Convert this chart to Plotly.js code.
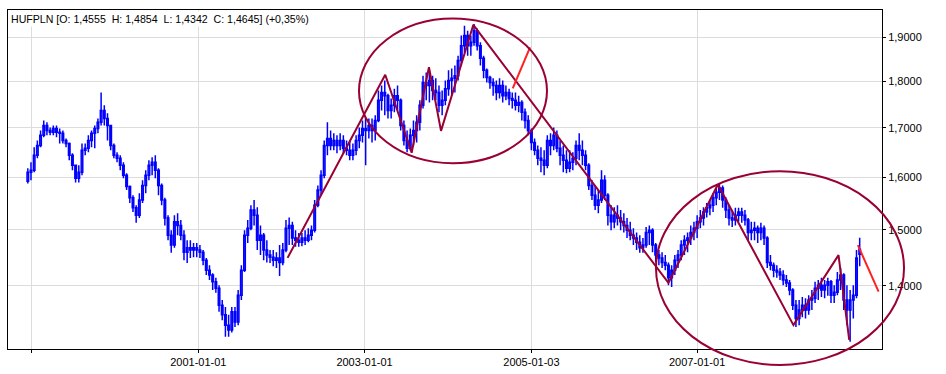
<!DOCTYPE html>
<html><head><meta charset="utf-8">
<script src="https://cdn.plot.ly/plotly-3.0.1.min.js"></script>
<style>html,body{margin:0;padding:0;background:#fff;}#chart{width:946px;height:374px;}</style>
</head><body><div id="chart"></div>
<script>
// Bi-weekly HUF/PLN bars
const startDate = '1998-12-14';
const barStepDays = 14;

const openV = [1.592,1.610,1.614,1.644,1.664,1.685,1.705,1.695,1.691,1.699,
1.691,1.689,1.674,1.668,1.644,1.624,1.598,1.610,1.654,1.658,
1.674,1.689,1.699,1.712,1.737,1.720,1.705,1.664,1.644,1.638,
1.624,1.604,1.582,1.560,1.541,1.527,1.556,1.584,1.604,1.624,
1.630,1.614,1.584,1.556,1.522,1.490,1.472,1.515,1.508,1.490,
1.459,1.467,1.463,1.467,1.463,1.459,1.445,1.427,1.419,1.407,
1.396,1.367,1.351,1.334,1.326,1.356,1.339,1.384,1.427,1.490,
1.503,1.537,1.527,1.481,1.490,1.463,1.454,1.450,1.445,1.449,
1.441,1.463,1.503,1.508,1.485,1.481,1.477,1.485,1.481,1.490,
1.499,1.546,1.575,1.604,1.664,1.678,1.664,1.674,1.664,1.674,
1.658,1.654,1.644,1.654,1.674,1.685,1.699,1.695,1.705,1.695,
1.716,1.759,1.776,1.769,1.737,1.748,1.769,1.759,1.705,1.674,
1.658,1.685,1.695,1.712,1.748,1.798,1.791,1.802,1.780,1.776,
1.748,1.759,1.784,1.802,1.807,1.813,1.847,1.881,1.905,1.881,
1.889,1.916,1.881,1.852,1.825,1.809,1.798,1.791,1.776,1.791,
1.769,1.776,1.763,1.759,1.748,1.754,1.733,1.716,1.695,1.670,
1.654,1.638,1.634,1.624,1.674,1.664,1.685,1.658,1.644,1.634,
1.618,1.630,1.638,1.664,1.654,1.644,1.624,1.584,1.565,1.546,
1.556,1.594,1.565,1.527,1.515,1.527,1.522,1.515,1.508,1.499,
1.490,1.485,1.477,1.467,1.472,1.495,1.499,1.472,1.454,1.449,
1.441,1.436,1.414,1.427,1.445,1.454,1.472,1.481,1.485,1.495,
1.503,1.515,1.522,1.533,1.541,1.546,1.560,1.571,1.579,1.556,
1.537,1.522,1.518,1.527,1.533,1.527,1.518,1.495,1.499,1.503,
1.495,1.503,1.485,1.441,1.436,1.427,1.424,1.419,1.410,1.405,
1.393,1.367,1.345,1.359,1.367,1.359,1.376,1.379,1.396,1.401,
1.393,1.401,1.407,1.384,1.389,1.410,1.419,1.376,1.359,1.376,
1.384,1.4555];

const highV = [1.618,1.630,1.660,1.674,1.695,1.716,1.712,1.701,1.705,1.705,
1.699,1.695,1.678,1.670,1.648,1.624,1.624,1.668,1.668,1.685,
1.695,1.705,1.720,1.776,1.748,1.731,1.699,1.668,1.650,1.644,
1.630,1.608,1.584,1.565,1.546,1.569,1.594,1.614,1.634,1.640,
1.644,1.618,1.588,1.560,1.527,1.499,1.527,1.531,1.518,1.499,
1.481,1.481,1.476,1.476,1.472,1.463,1.449,1.436,1.422,1.414,
1.401,1.376,1.364,1.351,1.364,1.364,1.393,1.436,1.499,1.518,
1.546,1.556,1.542,1.508,1.494,1.481,1.463,1.463,1.459,1.472,
1.476,1.518,1.523,1.515,1.499,1.494,1.494,1.499,1.503,1.508,
1.556,1.584,1.614,1.674,1.712,1.695,1.689,1.685,1.689,1.685,
1.674,1.674,1.668,1.685,1.701,1.716,1.720,1.720,1.720,1.727,
1.780,1.791,1.802,1.773,1.763,1.784,1.791,1.763,1.716,1.695,
1.699,1.716,1.727,1.759,1.813,1.820,1.825,1.813,1.807,1.791,
1.780,1.802,1.825,1.829,1.836,1.858,1.905,1.928,1.916,1.905,
1.932,1.921,1.889,1.858,1.829,1.813,1.807,1.802,1.807,1.802,
1.791,1.784,1.776,1.776,1.769,1.759,1.741,1.727,1.699,1.678,
1.664,1.660,1.654,1.685,1.689,1.701,1.695,1.674,1.664,1.654,
1.654,1.650,1.674,1.689,1.674,1.654,1.628,1.594,1.584,1.575,
1.614,1.604,1.569,1.546,1.542,1.546,1.537,1.531,1.522,1.515,
1.503,1.495,1.490,1.485,1.505,1.508,1.503,1.476,1.463,1.459,
1.454,1.441,1.436,1.454,1.463,1.481,1.490,1.495,1.508,1.515,
1.527,1.537,1.542,1.550,1.556,1.569,1.579,1.588,1.584,1.561,
1.546,1.537,1.541,1.541,1.541,1.537,1.522,1.515,1.515,1.508,
1.513,1.508,1.488,1.454,1.441,1.436,1.431,1.427,1.419,1.410,
1.396,1.376,1.376,1.381,1.379,1.384,1.393,1.407,1.410,1.414,
1.410,1.414,1.410,1.401,1.424,1.431,1.422,1.401,1.393,1.401,
1.463,1.4854];

const lowV = [1.588,1.594,1.610,1.638,1.660,1.681,1.685,1.685,1.685,1.681,
1.668,1.668,1.660,1.634,1.614,1.590,1.590,1.604,1.644,1.650,
1.660,1.658,1.689,1.705,1.705,1.674,1.654,1.638,1.630,1.614,
1.598,1.575,1.550,1.533,1.513,1.522,1.550,1.569,1.594,1.604,
1.598,1.565,1.546,1.508,1.481,1.458,1.467,1.490,1.481,1.445,
1.440,1.449,1.450,1.450,1.449,1.436,1.419,1.410,1.393,1.388,
1.356,1.342,1.315,1.315,1.322,1.331,1.334,1.376,1.424,1.476,
1.499,1.508,1.463,1.454,1.445,1.441,1.440,1.434,1.431,1.417,
1.436,1.459,1.472,1.472,1.469,1.469,1.470,1.472,1.477,1.481,
1.495,1.542,1.565,1.598,1.644,1.654,1.654,1.648,1.654,1.648,
1.644,1.634,1.634,1.644,1.658,1.670,1.624,1.678,1.670,1.674,
1.712,1.737,1.727,1.720,1.720,1.733,1.737,1.695,1.664,1.650,
1.654,1.664,1.670,1.695,1.741,1.759,1.754,1.759,1.759,1.733,
1.727,1.748,1.769,1.769,1.776,1.802,1.836,1.865,1.858,1.858,
1.881,1.870,1.836,1.807,1.798,1.784,1.769,1.759,1.763,1.754,
1.759,1.748,1.741,1.737,1.733,1.716,1.699,1.685,1.654,1.644,
1.624,1.610,1.604,1.618,1.644,1.654,1.650,1.624,1.610,1.608,
1.610,1.614,1.624,1.634,1.624,1.614,1.575,1.556,1.537,1.531,
1.550,1.556,1.508,1.499,1.503,1.508,1.499,1.495,1.485,1.481,
1.472,1.463,1.458,1.458,1.467,1.472,1.459,1.441,1.436,1.431,
1.427,1.401,1.398,1.419,1.431,1.445,1.454,1.459,1.472,1.481,
1.485,1.503,1.508,1.523,1.527,1.533,1.546,1.556,1.541,1.522,
1.508,1.505,1.508,1.515,1.513,1.508,1.481,1.481,1.481,1.476,
1.481,1.472,1.431,1.427,1.415,1.414,1.410,1.401,1.398,1.384,
1.359,1.331,1.334,1.347,1.345,1.351,1.359,1.371,1.376,1.381,
1.379,1.383,1.371,1.371,1.384,1.393,1.359,1.334,1.307,1.345,
1.379,1.4342];

const closeV = [1.610,1.614,1.644,1.664,1.685,1.705,1.695,1.691,1.699,1.691,
1.689,1.674,1.668,1.644,1.624,1.598,1.610,1.654,1.658,1.674,
1.689,1.699,1.712,1.737,1.720,1.705,1.664,1.644,1.638,1.624,
1.604,1.582,1.560,1.541,1.527,1.556,1.584,1.604,1.624,1.630,
1.614,1.584,1.556,1.522,1.490,1.472,1.515,1.508,1.490,1.459,
1.467,1.463,1.467,1.463,1.459,1.445,1.427,1.419,1.407,1.396,
1.367,1.351,1.334,1.326,1.356,1.339,1.384,1.427,1.490,1.503,
1.537,1.527,1.481,1.490,1.463,1.454,1.450,1.445,1.449,1.441,
1.463,1.503,1.508,1.485,1.481,1.477,1.485,1.481,1.490,1.499,
1.546,1.575,1.604,1.664,1.678,1.664,1.674,1.664,1.674,1.658,
1.654,1.644,1.654,1.674,1.685,1.699,1.695,1.705,1.695,1.716,
1.759,1.776,1.769,1.737,1.748,1.769,1.759,1.705,1.674,1.658,
1.685,1.695,1.712,1.748,1.798,1.791,1.802,1.780,1.776,1.748,
1.759,1.784,1.802,1.807,1.813,1.847,1.881,1.905,1.881,1.889,
1.916,1.881,1.852,1.825,1.809,1.798,1.791,1.776,1.791,1.769,
1.776,1.763,1.759,1.748,1.754,1.733,1.716,1.695,1.670,1.654,
1.638,1.634,1.624,1.674,1.664,1.685,1.658,1.644,1.634,1.618,
1.630,1.638,1.664,1.654,1.644,1.624,1.584,1.565,1.546,1.556,
1.594,1.565,1.527,1.515,1.527,1.522,1.515,1.508,1.499,1.490,
1.485,1.477,1.467,1.472,1.495,1.499,1.472,1.454,1.449,1.441,
1.436,1.414,1.427,1.445,1.454,1.472,1.481,1.485,1.495,1.503,
1.515,1.522,1.533,1.541,1.546,1.560,1.571,1.579,1.556,1.537,
1.522,1.518,1.527,1.533,1.527,1.518,1.495,1.499,1.503,1.495,
1.503,1.485,1.441,1.436,1.427,1.424,1.419,1.410,1.405,1.393,
1.367,1.345,1.359,1.367,1.359,1.376,1.379,1.396,1.401,1.393,
1.401,1.407,1.384,1.389,1.410,1.419,1.376,1.359,1.376,1.384,
1.449,1.4645];

// Axis ticks
const yTickVals = [1.4, 1.5, 1.6, 1.7, 1.8, 1.9];
const yTickText = ['1,4000', '1,5000', '1,6000', '1,7000', '1,8000', '1,9000'];
const xTickVals = ['1999-01-01', '2001-01-01', '2003-01-01', '2005-01-03', '2007-01-01'];
const xTickText = ['', '2001-01-01', '2003-01-01', '2005-01-03', '2007-01-01'];

// Drawn trend lines (zig-zag) and forecast strokes
const trendDates = ['2002-01-28','2003-04-02','2003-07-27','2003-10-11','2003-12-03','2004-04-23','2006-08-28','2007-04-02','2008-02-28','2008-09-13','2008-10-30'];
const trendValues = [1.449, 1.815, 1.649, 1.832, 1.694, 1.930, 1.405, 1.586, 1.334, 1.454, 1.310];
const red1Dates = ['2004-10-13', '2004-12-28'];
const red1Values = [1.785, 1.877];
const red2Dates = ['2008-12-07', '2009-03-08'];
const red2Values = [1.472, 1.390];

const headerText = 'HUFPLN [O: 1,4555&nbsp; H: 1,4854&nbsp; L: 1,4342&nbsp; C: 1,4645] (+0,35%)';

const t0 = Date.UTC(1998, 11, 14);
const dates = closeV.map((_, i) => new Date(t0 + i * barStepDays * 86400000).toISOString().slice(0, 10));

const maroon = '#990033';
const traces = [
  {
    type: 'candlestick', x: dates, open: openV, high: highV, low: lowV, close: closeV,
    increasing: {line: {color: '#0000ff', width: 1.5}, fillcolor: '#ffffff'},
    decreasing: {line: {color: '#0000ff', width: 1.5}, fillcolor: '#0000ff'},
    whiskerwidth: 0, hoverinfo: 'skip', showlegend: false
  },
  {type: 'scatter', mode: 'lines', x: trendDates, y: trendValues, line: {color: maroon, width: 2}, hoverinfo: 'skip', showlegend: false},
  {type: 'scatter', mode: 'lines', x: red1Dates, y: red1Values, line: {color: '#ff2020', width: 2}, hoverinfo: 'skip', showlegend: false},
  {type: 'scatter', mode: 'lines', x: red2Dates, y: red2Values, line: {color: '#ff2020', width: 2}, hoverinfo: 'skip', showlegend: false}
];

const layout = {
  width: 946, height: 374,
  margin: {l: 8, r: 64, t: 10, b: 25, pad: 0},
  paper_bgcolor: '#ffffff', plot_bgcolor: '#ffffff',
  showlegend: false,
  font: {family: 'Liberation Sans, Arial, sans-serif', size: 11, color: '#000000'},
  xaxis: {
    type: 'date', range: ['1998-09-18', '2009-03-23'],
    tickmode: 'array', tickvals: xTickVals, ticktext: xTickText, tickangle: 0,
    ticks: 'outside', ticklen: 3, tickcolor: '#000000',
    showgrid: true, gridcolor: '#dcdcdc', gridwidth: 1,
    showline: true, linecolor: '#000000', linewidth: 1, mirror: true,
    zeroline: false, rangeslider: {visible: false}, fixedrange: true
  },
  yaxis: {
    type: 'log', side: 'right', range: [Math.log10(1.2954), Math.log10(1.9655)],
    tickmode: 'array', tickvals: yTickVals, ticktext: yTickText,
    ticks: 'outside', ticklen: 3, tickcolor: '#000000',
    showgrid: true, gridcolor: '#dcdcdc', gridwidth: 1,
    showline: true, linecolor: '#000000', linewidth: 1, mirror: true,
    zeroline: false, fixedrange: true
  },
  shapes: [
    {type: 'circle', xref: 'paper', yref: 'paper', x0: 0.4016, x1: 0.6167, y0: 0.5479, y1: 0.975, line: {color: maroon, width: 2}, layer: 'above'},
    {type: 'circle', xref: 'paper', yref: 'paper', x0: 0.7414, x1: 1.0252, y0: -0.0471, y1: 0.5243, line: {color: maroon, width: 2}, layer: 'above'}
  ],
  annotations: [{
    xref: 'paper', yref: 'paper', x: 0, y: 1, xanchor: 'left', yanchor: 'top',
    xshift: 1, yshift: -1, showarrow: false, text: headerText,
    bgcolor: '#ffffff', borderpad: 1, font: {size: 10.6, color: '#000000'}
  }]
};

Plotly.newPlot('chart', traces, layout, {staticPlot: true, displayModeBar: false});
</script></body></html>
